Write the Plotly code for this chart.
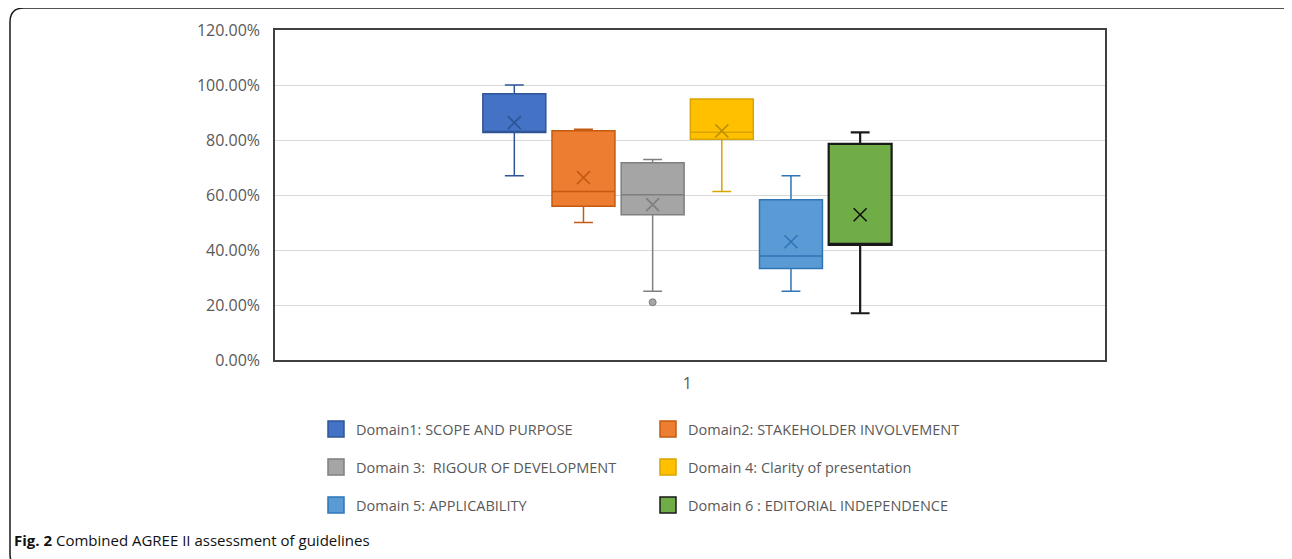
import plotly.graph_objects as go

categories = ["1"]
domains = ["Domain1: SCOPE AND PURPOSE", "Domain2: STAKEHOLDER INVOLVEMENT",
           "Domain 3:  RIGOUR OF DEVELOPMENT", "Domain 4: Clarity of presentation",
           "Domain 5: APPLICABILITY", "Domain 6 : EDITORIAL INDEPENDENCE"]
lower_whisker = [0.67, 0.50, 0.25, 0.613, 0.25, 0.17]
q1 = [0.827, 0.559, 0.528, 0.803, 0.333, 0.419]
median = [0.827, 0.613, 0.601, 0.828, 0.378, 0.419]
q3 = [0.968, 0.834, 0.717, 0.949, 0.583, 0.786]
upper_whisker = [1.00, 0.839, 0.729, 0.949, 0.67, 0.828]
mean = [0.863, 0.663, 0.565, 0.833, 0.43, 0.528]
outlier_domain = [2]
outlier_value = [0.21]

fills = ["#4472C4", "#ED7D31", "#A5A5A5", "#FFC000", "#5B9BD5", "#70AD47"]
lines = ["#2F5597", "#C55A11", "#7F7F7F", "#D9A400", "#2E75B6", "#1A1A1A"]
mean_colors = ["#2F5597", "#C55A11", "#7F7F7F", "#BF9000", "#2E75B6", "#111111"]

OFF = 8  # page body margin
W, H = 1292 - OFF, 559 - OFF
L, R, T, B = 275 - OFF, 1105 - OFF, 30 - OFF, 360 - OFF
pw, ph = R - L, B - T

def px(x):
    return (x - OFF - L) / pw

def py(y):
    return (B - (y - OFF)) / ph

n = len(domains)
pos = [i - (n - 1) / 2 for i in range(n)]

fig = go.Figure()
for i in range(n):
    fig.add_trace(go.Box(
        x=[pos[i]], q1=[q1[i]], median=[median[i]], q3=[q3[i]],
        lowerfence=[lower_whisker[i]], upperfence=[upper_whisker[i]],
        width=0.91, whiskerwidth=0.3, fillcolor=fills[i],
        line=dict(color=lines[i], width=2.2 if i == 5 else 1.5),
        boxpoints=False, showlegend=False, hoverinfo="skip"))
    fig.add_trace(go.Scatter(
        x=[pos[i]], y=[mean[i]], mode="markers",
        marker=dict(symbol="x-thin-open", size=13, color=mean_colors[i],
                    line=dict(color=mean_colors[i], width=1.6)),
        showlegend=False, hoverinfo="skip"))

fig.add_trace(go.Scatter(
    x=[pos[d] for d in outlier_domain], y=outlier_value, mode="markers",
    marker=dict(symbol="circle", size=7, color="#A5A5A5",
                line=dict(color="#7F7F7F", width=1)),
    showlegend=False, hoverinfo="skip"))

legend_names = ["legend", "legend2", "legend3"]
for i in range(n):
    fig.add_trace(go.Scatter(
        x=[None], y=[None], mode="markers", name=domains[i],
        legend=legend_names[i // 2],
        marker=dict(symbol="square", size=16, color=fills[i],
                    line=dict(color=lines[i], width=1.5))))

row_y = [429, 467, 505]
leg_common = dict(orientation="h", xanchor="left", yanchor="middle",
                  entrywidth=287, entrywidthmode="pixels",
                  font=dict(family="Open Sans", size=14.5, color="#595959"),
                  bgcolor="rgba(0,0,0,0)", itemclick=False)
layout_legends = {}
for k, name in enumerate(legend_names):
    layout_legends[name] = dict(x=px(316), y=py(row_y[k]), **leg_common)

# outer rounded frame
x0, x1, y0, y1, r = 10, 1296, 8, 568, 14
path = (f"M {px(x0)},{py(y0 + r)} Q {px(x0)},{py(y0)} {px(x0 + r)},{py(y0)} "
        f"L {px(x1 - r)},{py(y0)} Q {px(x1)},{py(y0)} {px(x1)},{py(y0 + r)} "
        f"L {px(x1)},{py(y1 - r)} Q {px(x1)},{py(y1)} {px(x1 - r)},{py(y1)} "
        f"L {px(x0 + r)},{py(y1)} Q {px(x0)},{py(y1)} {px(x0)},{py(y1 - r)} Z")

tick_font = dict(family="Open Sans", size=16, color="#595959")

fig.update_layout(
    width=W, height=H,
    margin=dict(l=L, r=W - R, t=T, b=H - B),
    paper_bgcolor="white", plot_bgcolor="white",
    font=dict(family="Open Sans", color="#595959"),
    xaxis=dict(range=[-5.96, 6.04], tickvals=[0], ticktext=categories,
               showgrid=False, zeroline=False, showline=True, mirror=True,
               linecolor="#404040", linewidth=1.5, ticks="",
               ticklabelstandoff=8, tickfont=tick_font),
    yaxis=dict(range=[0, 1.2], dtick=0.2, tickformat=".2%",
               showgrid=True, gridcolor="#D9D9D9", gridwidth=1,
               zeroline=False, showline=True, mirror=True,
               linecolor="#404040", linewidth=1.5, ticks="",
               ticklabelstandoff=10, tickfont=tick_font),
    shapes=[dict(type="path", xref="paper", yref="paper", path=path,
                 line=dict(color="#1a1a1a", width=1.5), layer="below")],
    annotations=[dict(xref="paper", yref="paper", x=px(12), y=py(540),
                      xanchor="left", yanchor="middle", showarrow=False,
                      text="<b>Fig. 2</b> Combined AGREE II assessment of guidelines",
                      font=dict(family="Open Sans", size=15, color="#111111"))],
    **layout_legends,
)

fig.write_html("out.html")
